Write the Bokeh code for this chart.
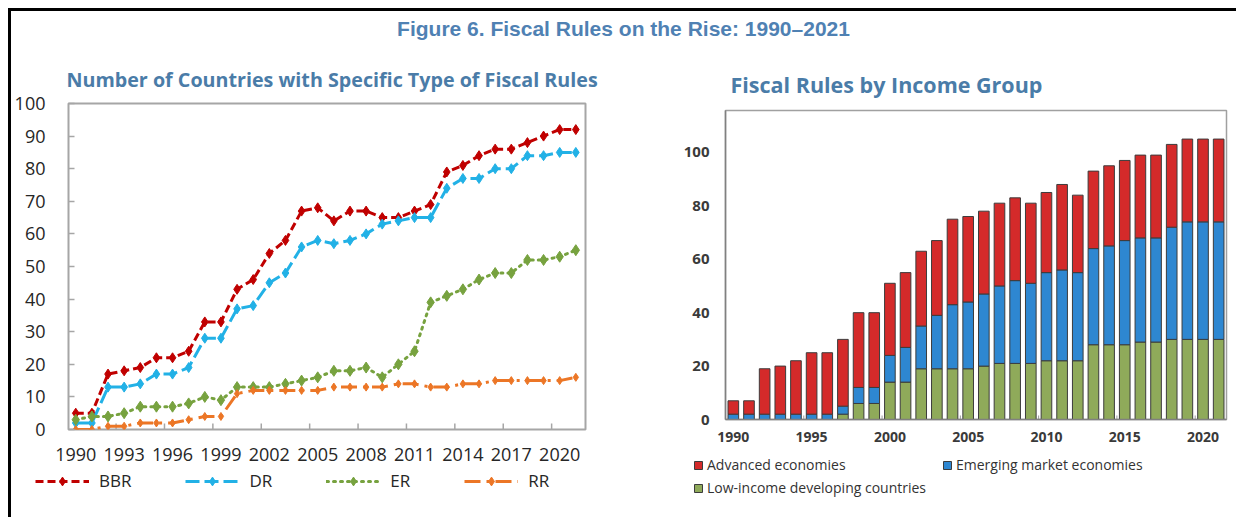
from bokeh.plotting import figure
from bokeh.models import (ColumnDataSource, Legend, LegendItem, LinearAxis,
                          FixedTicker, Div, Title, Range1d, Spacer)
from bokeh.layouts import column, row
from bokeh.embed import file_html
from bokeh.resources import INLINE

# ---------------- data ----------------
years = list(range(1990, 2022))
bbr = [5, 5, 17, 18, 19, 22, 22, 24, 33, 33, 43, 46, 54, 58, 67, 68, 64, 67, 67, 65,
       65, 67, 69, 79, 81, 84, 86, 86, 88, 90, 92, 92]
dr = [2, 2, 13, 13, 14, 17, 17, 19, 28, 28, 37, 38, 45, 48, 56, 58, 57, 58, 60, 63,
      64, 65, 65, 74, 77, 77, 80, 80, 84, 84, 85, 85]
er = [3, 4, 4, 5, 7, 7, 7, 8, 10, 9, 13, 13, 13, 14, 15, 16, 18, 18, 19, 16,
      20, 24, 39, 41, 43, 46, 48, 48, 52, 52, 53, 55]
rr = [0, 0, 1, 1, 2, 2, 2, 3, 4, 4, 11, 12, 12, 12, 12, 12, 13, 13, 13, 13,
      14, 14, 13, 13, 14, 14, 15, 15, 15, 15, 15, 16]

low_income = [0, 0, 0, 0, 0, 0, 0, 2, 6, 6, 14, 14, 19, 19, 19, 19, 20, 21, 21, 21,
              22, 22, 22, 28, 28, 28, 29, 29, 30, 30, 30, 30]
emerging = [2, 2, 2, 2, 2, 2, 2, 3, 6, 6, 10, 13, 16, 20, 24, 25, 27, 29, 31, 30,
            33, 34, 33, 36, 37, 39, 39, 39, 42, 44, 44, 44]
advanced = [5, 5, 17, 18, 20, 23, 23, 25, 28, 28, 27, 28, 28, 28, 32, 32, 31, 31, 31, 30,
            30, 32, 29, 29, 30, 30, 31, 31, 31, 31, 31, 31]

left_tick_labels = list(range(1990, 2021, 3))
left_y_ticks = list(range(0, 101, 10))
right_tick_labels = list(range(1990, 2021, 5))
right_y_ticks = list(range(0, 101, 20))

FONT = "Open Sans"
TITLE_BLUE = "#4f81b3"
SUB_BLUE = "#4a7ca8"


def no_frame_align(f):
    try:
        f.frame_align = False
    except Exception:
        pass


def legend_strip(width, height):
    f = figure(width=width, height=height, x_range=Range1d(0, 1), y_range=Range1d(0, 1),
               output_backend="svg", toolbar_location=None,
               x_axis_location=None, y_axis_location=None,
               min_border_left=0, min_border_right=0, min_border_top=0, min_border_bottom=0)
    f.grid.visible = False
    f.outline_line_color = None
    no_frame_align(f)
    return f


# ---------------- left chart ----------------
p1 = figure(width=639, height=423, x_range=Range1d(1989.55, 2021.6), y_range=Range1d(0, 100),
            output_backend="svg", toolbar_location=None,
            x_axis_location=None, y_axis_location=None,
            min_border_left=57, min_border_right=65, min_border_top=57, min_border_bottom=40)
p1.grid.visible = False
p1.outline_line_color = "#a6a6a6"
p1.outline_line_width = 2
no_frame_align(p1)

yax1 = LinearAxis(ticker=FixedTicker(ticks=left_y_ticks), axis_line_color=None,
                  major_tick_in=6, major_tick_out=0, minor_tick_line_color=None,
                  major_tick_line_color="#a6a6a6", major_tick_line_width=1.5,
                  major_label_text_font=FONT, major_label_text_font_size="18px",
                  major_label_text_color="#262626", major_label_standoff=23)
p1.add_layout(yax1, "left")

xlab1 = LinearAxis(ticker=FixedTicker(ticks=left_tick_labels), axis_line_color=None,
                   major_tick_line_color=None, minor_tick_line_color=None,
                   major_label_text_font=FONT, major_label_text_font_size="18px",
                   major_label_text_color="#262626", major_label_standoff=12)
p1.add_layout(xlab1, "below")

tx1 = [y + 0.5 for y in range(1992, 2021, 3)]
p1.segment(x0=tx1, y0=[0] * len(tx1), x1=tx1, y1=[1.85] * len(tx1),
           line_color="#a6a6a6", line_width=1.5)

p1.add_layout(Title(text="Number of Countries with Specific Type of Fiscal Rules", align="left",
                    text_font=FONT, text_font_size="19.7px", text_font_style="bold",
                    text_color=SUB_BLUE, standoff=22, offset=-2), "above")

series = [
    ("BBR", bbr, "#c00000", "8 4", 10),
    ("DR", dr, "#22b1e6", "14 5", 10),
    ("ER", er, "#77a23f", "2 5", 11),
    ("RR", rr, "#ec7626", "16 6 3 6", 8),
]
lg1 = legend_strip(639, 48)
items = []
for name, vals, col, dash, msize in series:
    src = ColumnDataSource(dict(x=years, y=vals))
    cap = "round" if name == "ER" else "butt"
    p1.line("x", "y", source=src, line_color=col, line_width=3, line_dash=dash, line_cap=cap)
    p1.scatter("x", "y", source=src, marker="diamond", size=msize,
               fill_color=col, line_color=col)
    # legend key proxies, kept outside the strip's visible range
    ln = lg1.line(x=[-10, -9], y=[-10, -9], line_color=col, line_width=3,
                  line_dash=dash, line_cap=cap)
    sc = lg1.scatter(x=[-10], y=[-10], marker="diamond", size=msize,
                     fill_color=col, line_color=col)
    items.append(LegendItem(label=name, renderers=[ln, sc]))

leg1 = Legend(items=items, orientation="horizontal", location=(24, 25),
              glyph_width=54, glyph_height=22, label_height=22, label_width=10,
              label_standoff=10, spacing=54, padding=0, margin=0,
              border_line_color=None, background_fill_alpha=0,
              label_text_font=FONT, label_text_font_size="17px", label_text_color="#262626")
lg1.add_layout(leg1)

# ---------------- right chart ----------------
src2 = ColumnDataSource(dict(year=years, low=low_income, em=emerging, adv=advanced))
p2 = figure(width=586, height=409, x_range=Range1d(1989.5, 2021.5), y_range=Range1d(0, 115.7),
            output_backend="svg", toolbar_location=None,
            x_axis_location=None, y_axis_location=None,
            min_border_left=75, min_border_right=10, min_border_top=64, min_border_bottom=36)
p2.grid.visible = False
p2.outline_line_color = "#a0a0a0"
p2.outline_line_width = 1.5
no_frame_align(p2)

bar_colors = ["#8faa5a", "#2e87d1", "#d42a2a"]
p2.vbar_stack(["low", "em", "adv"], x="year", width=0.68, source=src2,
              fill_color=bar_colors, line_color="#3c3c3c", line_width=1)

yax2 = LinearAxis(ticker=FixedTicker(ticks=right_y_ticks), axis_line_color="#808080",
                  axis_line_width=1.5, major_tick_line_color=None, minor_tick_line_color=None,
                  major_label_text_font=FONT, major_label_text_font_size="15px",
                  major_label_text_font_style="bold",
                  major_label_text_color="#3a3a3a", major_label_standoff=10)
p2.add_layout(yax2, "left")

xlab2 = LinearAxis(ticker=FixedTicker(ticks=right_tick_labels), axis_line_color="#808080",
                   axis_line_width=1.5,
                   major_tick_line_color=None, minor_tick_line_color=None,
                   major_label_text_font=FONT, major_label_text_font_size="14px",
                   major_label_text_font_style="bold",
                   major_label_text_color="#3a3a3a", major_label_standoff=6)
p2.add_layout(xlab2, "below")

tx2 = [y + 0.5 for y in range(1994, 2021, 5)]
p2.segment(x0=tx2, y0=[0] * len(tx2), x1=tx2, y1=[1.5] * len(tx2),
           line_color="#9a9a9a", line_width=1)

p2.add_layout(Title(text="Fiscal Rules by Income Group", align="left",
                    text_font=FONT, text_font_size="21.5px", text_font_style="bold",
                    text_color=SUB_BLUE, standoff=23, offset=5), "above")

lg2 = legend_strip(586, 62)
keys = {}
for key, col in zip(["low", "em", "adv"], bar_colors):
    keys[key] = lg2.vbar(x=[-10], top=[-5], width=0.5, fill_color=col,
                         line_color="#3c3c3c", line_width=1)
leg2 = Legend(items=[LegendItem(label="Advanced economies", renderers=[keys["adv"]]),
                     LegendItem(label="Emerging market economies", renderers=[keys["em"]]),
                     LegendItem(label="Low-income developing countries", renderers=[keys["low"]])],
              orientation="horizontal", ncols=2, location=(43, 20),
              glyph_width=10, glyph_height=10, label_height=18, label_width=231,
              label_standoff=4, spacing=4, padding=0, margin=0,
              border_line_color=None, background_fill_alpha=0,
              label_text_font=FONT, label_text_font_size="14px", label_text_color="#333333")
lg2.add_layout(leg2)

# ---------------- page layout ----------------
title = Div(text="Figure 6. Fiscal Rules on the Rise: 1990–2021", width=1225, height=35, margin=0,
            styles={"text-align": "center", "font-family": "'Liberation Sans', Arial, sans-serif",
                    "font-weight": "bold", "font-size": "21px", "color": TITLE_BLUE,
                    "line-height": "35px", "width": "1225px"})
top_bar = Div(text="", width=1228, height=3, margin=0, styles={"background-color": "black"})
left_bar = Div(text="", width=3, height=506, margin=0, styles={"background-color": "black"})

content = column(top_bar,
                 row(left_bar,
                     column(title, row(column(p1, lg1), column(p2, lg2)))))
layout = column(Spacer(height=8), row(Spacer(width=8), content))

with open("out.html", "w", encoding="utf-8") as f:
    f.write(file_html(layout, INLINE))
